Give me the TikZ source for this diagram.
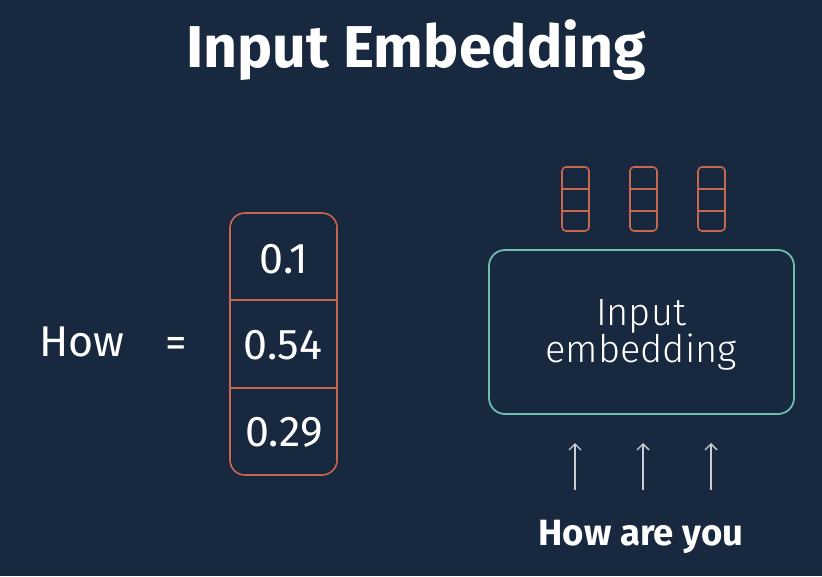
\documentclass[tikz,border=0pt]{standalone}
\usepackage{fontspec}
\setmainfont{Fira Sans}
\newfontfamily\lightfont{Fira Sans Light}
\usetikzlibrary{arrows.meta}
\definecolor{bg}{HTML}{18283F}
\definecolor{vec}{HTML}{C8674F}
\definecolor{teal}{HTML}{6CBDB0}
\definecolor{arr}{HTML}{C9CDD4}
\tikzset{
  vecline/.style={draw=vec, line width=1.6pt},
  smallvec/.style={draw=vec, line width=1.6pt, rounded corners=4pt},
  txt/.style={text=white, inner sep=0pt, anchor=base},
  uparrow/.style={draw=arr, line width=1.4pt, -{Straight Barb[length=6pt,width=12pt,line width=1.4pt]}}
}
\begin{document}
\begin{tikzpicture}[x=1pt,y=-1pt]
\fill[bg] (0,0) rectangle (822,576);
\useasboundingbox (0,0) rectangle (822,576);
% title
\node[txt, font=\fontsize{59}{64}\selectfont\bfseries] (title) at (416,67) {Input Embedding};
% left
\node[txt, font=\fontsize{43}{48}\selectfont] (how) at (82,356) {How};
\node[txt, font=\fontsize{43}{48}\selectfont] (eq) at (176,357) {=};
% big vector
\draw[vecline, rounded corners=15pt] (230,213) rectangle (337,475);
\coordinate (d1l) at (230,300); \coordinate (d1r) at (337,300);
\coordinate (d2l) at (230,388); \coordinate (d2r) at (337,388);
\draw[vecline] (d1l) -- (d1r);
\draw[vecline] (d2l) -- (d2r);
\node[txt, font=\fontsize{43}{48}\selectfont] (v1) at (284,273) {0.1};
\node[txt, font=\fontsize{43}{48}\selectfont] (v2) at (283,359) {0.54};
\node[txt, font=\fontsize{43}{48}\selectfont] (v3) at (284,446) {0.29};
% small vectors
\foreach \x/\n in {562/a,630/b,698/c}{
  \draw[smallvec] (\x,167) rectangle (\x+27,231);
  \draw[vecline] (\x,189) -- (\x+27,189);
  \draw[vecline] (\x,211) -- (\x+27,211);
}
% big box
\node[draw=teal, line width=1.8pt, rounded corners=16pt, minimum width=305pt, minimum height=164pt, inner sep=0pt] (box) at (641.5,332) {};
\node[txt, font=\fontsize{38}{42}\selectfont\lightfont] (l1) at (641,325) {Input};
\node[txt, font=\fontsize{38}{42}\selectfont\lightfont] (l2) at (641,362) {embedding};
% arrows
\foreach \x/\n in {575/a,643/b,711/c}{
  \coordinate (s\n) at (\x,490);
  \coordinate (e\n) at (\x,443);
  \draw[uparrow] (s\n) -- (e\n);
}
\node[txt, font=\fontsize{36.5}{42}\selectfont\bfseries] (hay) at (641,545) {How are you};
\end{tikzpicture}
\end{document}
